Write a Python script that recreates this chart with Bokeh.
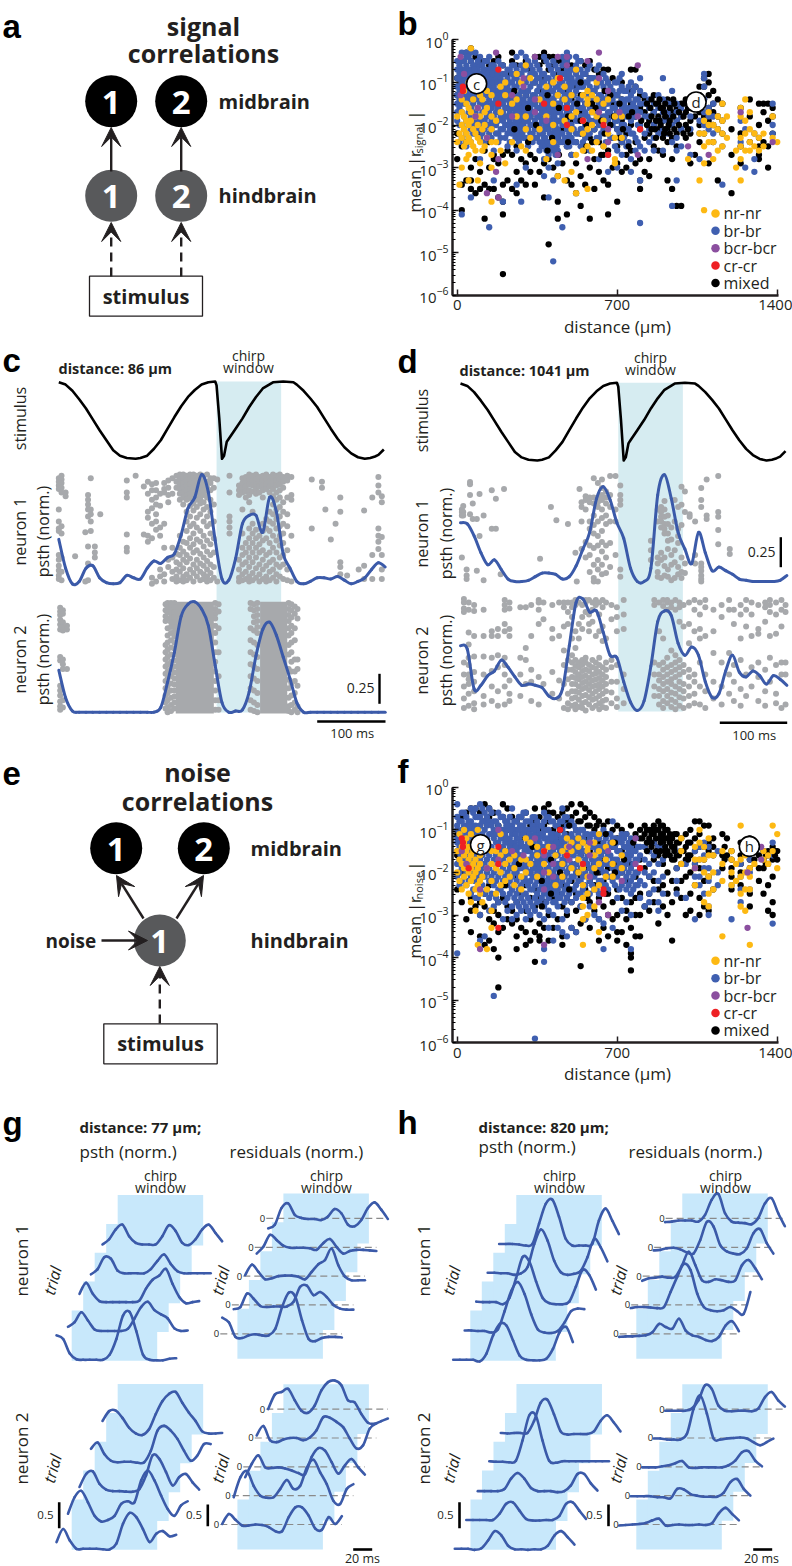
from math import pi
from bokeh.plotting import figure
from bokeh.layouts import row, column
from bokeh.models import Range1d, Arrow, VeeHead, FixedTicker, LogTicker, LogAxis, LinearAxis
from bokeh.core.properties import value
from bokeh.embed import file_html
from bokeh.resources import INLINE

# ---------------- panel b / f : distance (um) -> list of -10*log10(mean |r|)
SIG_BLACK = {0:[9,13,22,28],20:[7,25,34,40],40:[3,24,33],60:[2,5,30,33,35],80:[4,28,36],100:[5,22,31,35],120:[5,26,34,42],140:[6,24,30,35],160:[5,27,28,35],180:[4,29,37],200:[6,27,34,38,41,55],220:[8,26,33],240:[3,5,27,35],260:[6,25,31,36],280:[8,28,33],300:[5,13,29,34],320:[7,18,27,31],340:[4,10,15,28,34],360:[4,6,12,18,31],380:[3,5,9,24,29,37],400:[4,7,11,20,28,48],420:[4,6,14,22,30],440:[5,8,13,23,32,38,42],460:[5,7,16,21,29],480:[5,9,12,25,33,41],500:[6,14,19,27,34],520:[7,11,24,29,36],540:[5,13,17,22,32,39],560:[6,8,15,26,34],580:[5,9,19,23,30,42],600:[7,12,21,28,35],620:[8,16,24,31],640:[7,14,19,27,33],660:[7,10,18,26,34,41],680:[9,15,23,30],700:[13,17,21,25,29,38],720:[10,14,19,24,31],740:[12,16,22,27,30],760:[7,12,15,20,26],780:[7,11,18,24,29],800:[13,16,21,28,33,35],820:[14,17,23,31],840:[16,19,22,28,32],860:[13,17,20,25],880:[15,18,21,26],900:[16,19,23,27],920:[14,18,21,24,33],940:[15,17,20,23,28,35],960:[16,19,22,25,39],980:[15,18,21,39],1000:[14,17,20,23],1020:[16,19,22,29],1040:[15,18,27],1060:[11,13,17,20,24],1080:[9,11,14,18,22],1100:[8,10,13,16,19,29],1120:[12,15,17,20,24],1140:[14,18,21,33],1160:[15,19,22],1200:[21,27,36],1240:[16,22,25,29],1280:[14,18,24],1320:[15,20,23,25,27,28],1340:[15,17,24],1360:[15,19,25,30],1380:[16,18,22]}
SIG_BLUE = {0:[5,7,9,11,13,15,17,19],20:[3,5,7,9,11,14,17,20,23,41],40:[3,4,6,8,10,12,15,19,22,25],60:[3,5,7,9,11,13,16,18,21,24,37],80:[3,6,8,10,12,14,17,19,22],100:[4,6,9,11,13,15,18,20,23,28],120:[5,7,9,11,13,16,19,21,24],140:[4,7,8,10,12,14,17,20,22,44],160:[6,7,9,11,13,15,18,20,26,33],180:[5,8,10,12,14,16,19,22,24],200:[6,8,10,11,13,15,17,19,21,38],220:[7,9,11,13,14,16,18,20,22,25],240:[6,8,10,12,14,16,18,20,22,24],260:[4,7,9,11,15,17,19,21,23,26,34],280:[3,6,8,12,14,16,18,20,22,38],300:[4,7,10,13,15,17,19,21,23,30],320:[6,8,11,14,16,18,20,22,24],340:[5,8,10,13,15,17,19,21,23],360:[7,9,11,14,16,18,20,22,24,26],380:[4,8,10,12,14,17,19,21,23,25,28,32],400:[6,9,11,13,15,17,19,21,24,27,30,37],420:[5,8,10,12,14,16,18,20,22,25,33,52],440:[7,9,11,13,15,17,19,21,23,26,29],460:[4,6,8,10,12,14,16,18,20,22,24,44],480:[3,5,7,9,11,13,15,17,19,21,23,25],500:[7,9,11,13,16,18,20,23,27],520:[4,6,8,10,12,15,17,19,22,24],540:[5,7,9,11,14,16,18,21,25],560:[8,10,13,15,17,20,23],580:[6,9,11,14,16,19,22,26],600:[9,12,14,17,19,21,24],620:[6,10,13,15,18,20,23,28],640:[8,11,14,16,18,21,25],660:[10,13,15,17,19,22,27,31],680:[12,14,16,18,20,23],700:[10,13,15,17,19,21,26,30],720:[8,11,14,16,18,20,24,27],740:[12,14,16,18,21,25],760:[10,13,16,19,22,28,31],780:[11,14,16,18,23,26],800:[9,12,15,17,20,25,33,43],820:[13,15,18,22,26],840:[14,16,18,21,24],860:[15,17,20,23,26],880:[13,16,19,22],900:[9,14,17,19,21,26],920:[15,17,19,22],940:[12,15,18,20,24,39],960:[15,17,19,23,26,33],980:[16,18,21,25],1020:[18,21,27],1060:[19,22,28],1080:[8,9,11,14,17,20],1100:[16,18,21],1120:[15,18,22],1160:[25,34],1240:[19,24],1260:[21,30],1300:[22,28,31],1380:[15,20,22]}
SIG_BLUE2 = {10:[6,8,10,12,14,16,20,24],30:[5,8,10,13,15,18,21],50:[4,7,9,11,14,17,20,23],70:[6,8,10,12,15,18,20,22],90:[5,7,11,13,16,19,21],110:[6,8,10,14,17,19,22],130:[5,8,12,15,18,20],150:[6,9,11,13,16,19,21,23],170:[7,9,12,14,17,20,22],190:[6,9,11,13,15,18,21,23],210:[8,10,12,14,16,18,20,23],230:[7,10,12,15,17,19,21,24],250:[6,9,11,13,16,18,20,22],270:[8,10,13,15,17,19,21,24],290:[7,10,12,14,16,18,20,23],310:[5,9,12,15,17,19,21,25],330:[7,10,13,15,17,20,22,24],350:[6,9,12,14,16,18,21,23],370:[8,10,13,15,17,19,22,25],390:[5,9,12,14,16,18,20,24,26],410:[7,10,12,14,17,19,22,25],430:[6,9,11,13,15,17,20,23,27],450:[8,10,12,15,17,19,22,24],470:[5,8,11,13,16,18,20,23],490:[4,8,10,12,14,17,20,22,25],510:[7,10,13,15,18,21,24],530:[5,9,11,14,16,19,22],550:[8,11,13,16,18,21,24],570:[7,10,13,15,18,22],590:[9,12,15,17,20,24],610:[7,11,14,16,19,23],630:[10,13,16,19,22],650:[9,12,15,18,21,24],670:[11,14,17,20,23],690:[10,13,16,19,25],710:[9,12,15,18,22],730:[12,15,17,20,23],750:[11,14,17,21,24],770:[12,15,18,22],790:[14,17,20,24]}
SIG_BLUE3 = {255:[15,17,19,21,23],265:[16,18,20,22],275:[15,17,19,21,23],285:[16,18,20,22],295:[15,17,19,21],375:[16,19,22,24],385:[17,20,23,25],395:[18,21,24,26],405:[16,19,22,25],415:[17,20,23,26],425:[18,21,24],435:[16,19,22,25],15:[9,11,13,15],35:[7,9,11,14],55:[8,10,13],75:[7,9,11,13],95:[8,10,12,14],115:[7,9,12,15],135:[9,11,13],155:[8,10,12,15],175:[8,10,13,16],195:[10,12,14,17]}
SIG_BLACK2 = {250:[12,21],310:[16,24],345:[20],395:[13,26],415:[23],445:[16,27],485:[18,24],525:[15],565:[20,25],605:[16],645:[12,22],685:[18],725:[21],765:[17],805:[19],845:[16],865:[21],885:[14,19],905:[17,22],925:[20],945:[14,18]}
SIG_BLACK3 = {830:[15,20],850:[14,18,21],870:[15,19,23],890:[16,20],910:[15,18,21],930:[16,19,22],950:[15,21],970:[17,20],990:[15,18,22],1010:[16,21],540:[10,19],590:[15,24],630:[19,27],670:[13,20],710:[15,23],750:[18,25]}
SIG_YELLOW = {0:[18,24],10:[22,34],20:[14,17,20,23,30],30:[12,18,21,25],40:[15,19,22,24,28],50:[10,16,20,23,27,33],60:[2,17,19,24],70:[14,21,25],80:[9,18,22,26],90:[16,20,23,33],100:[13,18,24,29],110:[14,21,26],120:[17,20,25],130:[12,16,23],150:[13,18,21,24,27,30,38],170:[19,24],190:[11,17,26],210:[10,13,29],240:[15,24],260:[8,14,18],280:[10,25],300:[6,18,21,26],320:[9,23],360:[14,21],390:[11,18,28],420:[10,15,20,24],440:[9,13,32],470:[11,14,19,33],500:[13,18,21,31],520:[7,17,27,36],550:[13,19,22,26],570:[12,14,15,21,25,35],590:[13,17,20,26],610:[10,14,18,24],640:[15,19,25],660:[14,22],690:[18,23,28,29],720:[18,23],1010:[28],1060:[22,33],1080:[19,22,25,29,40],1100:[17,20,24],1120:[20,24,28],1140:[18,21,26],1160:[15,19,22,25],1180:[18,23],1220:[26,30],1240:[16,18,23,25,28,33],1260:[14,19,22,26],1280:[17,21,24,26],1300:[22,25],1320:[23,26],1340:[22,25],1380:[18,23],1400:[24]}
SIG_PURPLE = {15:[4,13],30:[8],80:[18],90:[16],130:[23,36],170:[3,31],180:[28,37],240:[18,13],290:[9,11],340:[4,14,17],390:[19],440:[4,27],480:[4,6],570:[5,28],620:[3,9,17],660:[12,21,24],710:[17],790:[18,27,6],1010:[25],1100:[27],1240:[17],1380:[24]}
SIG_RED = {25:[11,12],180:[7,15],380:[15],450:[9],480:[16,20],550:[19],640:[20],660:[27],800:[21]}

NOISE_BLACK = {0:[11,16,24],20:[7,20,27],40:[6,15,31],60:[5,17,26,29,34],80:[5,12,22,28],100:[6,9,27,30,35],120:[4,8,25,28,37],140:[5,7,23,31,36],160:[6,29,32,38],180:[9,27,30,34,40,47],200:[4,7,26,33],220:[5,10,28,31],240:[7,24,29,32],260:[8,21,27,31,35,38],280:[7,12,25,33],300:[6,11,23,29,34,37],320:[9,20,26,31,36],340:[5,8,18,24,28,34,41],360:[7,10,19,26,32,35,36],380:[5,9,15,22,27,33],400:[4,6,8,17,24,30,36],420:[6,10,21,26,33],440:[7,12,19,25,31],460:[6,9,14,23,28,35,37],480:[5,8,11,20,26,30],500:[4,7,13,22,27,33],520:[6,10,18,25,29,34],540:[4,8,16,21,28,32,42],560:[5,7,12,19,24,31],580:[6,9,15,22,27,33],600:[7,10,18,23,29],620:[8,13,20,26,31,36],640:[9,17,22,28,33],660:[8,11,19,25,30,35],680:[10,14,21,27,31],700:[9,12,18,24,30,34,36],720:[10,15,20,26,34],740:[11,16,22,29,31,37],760:[9,13,18,27,33,39,40,43],780:[11,14,21,26,30,35],800:[10,12,17,25,30,35],820:[9,11,14,19,28],840:[10,12,15,21,25,29],860:[9,11,13,17,22,27],880:[8,10,14,16,24,32],900:[9,11,13,18,23,28],920:[10,12,15,20,25,30],940:[12,14,17,22,27,36],960:[11,13,16,19,24],980:[12,15,18,22,26],1000:[11,14,17,21,30],1020:[10,13,16,20,25,29],1040:[8,12,15,18,23],1060:[8,11,14,19,26,30],1080:[9,14,17,22,28],1100:[9,13,15,21,29],1120:[12,14,16,24],1160:[11,16,19],1200:[15,17,19,21,24],1240:[13,16,18,20,23],1280:[12,17,19,25,28],1320:[14,16,19,22],1340:[15,17,19,25],1360:[15,16,18,23,29],1380:[14,16,17,21,27,30],1400:[15,17]}
NOISE_BLUE = {0:[4,9,12,15,18,21,7,10,13,39],20:[6,8,10,13,16,19,22],40:[7,9,11,14,17,20,23],60:[5,8,10,12,15,18,21,25],80:[5,7,9,11,13,16,19,22,26],100:[4,7,9,12,14,17,20,24,30,36],120:[6,8,10,13,15,18,21,25,35],140:[5,8,11,14,16,19,22,26,29],160:[8,10,12,15,17,20,23,28,49],180:[6,9,11,13,16,18,21,24,27],200:[7,10,12,14,17,19,22,25,31],220:[8,10,13,15,18,20,23,26,29],240:[5,9,11,14,16,19,21,24,28,31],260:[8,10,12,15,17,20,22,25,27,30],280:[7,9,11,13,16,18,21,23,26,29],300:[6,8,10,12,14,17,19,22,25,28,31],320:[8,10,12,15,17,20,22,24,27,30],340:[7,9,11,14,16,18,21,23,26,29,59],360:[9,11,13,15,17,19,21,24,27,30],380:[6,8,10,12,15,18,20,22,25,28,31,38,41],400:[7,10,12,14,16,19,21,23,26,29,33],420:[8,11,13,15,17,20,22,25,27,30,36],440:[9,11,14,16,18,21,24,26,28,33],460:[5,8,10,12,14,17,19,22,25,31,34],480:[7,9,12,15,17,20,23,26,29,35],500:[8,11,13,16,18,21,24,27,33],520:[10,13,15,18,20,23,26,34],540:[10,12,14,16,19,22,25,28],560:[11,13,15,17,20,23,26,31],580:[12,14,16,19,22,25,28],600:[11,14,16,18,21,24,30],620:[12,14,17,19,22,25,31],640:[10,13,15,18,20,23,32,38],660:[11,14,16,18,21,24],680:[8,12,14,17,19,22,33],700:[13,15,17,19,21,26],720:[11,13,16,18,20,23,29],740:[11,14,16,18,21,24,27],760:[12,14,16,19,22,25,30,38],780:[12,15,17,20,23],800:[14,16,19,22,26],820:[14,17,20,23,28],840:[15,18,21,25,27],860:[13,16,20,24],880:[14,18,22,27,29],900:[14,17,21,25],960:[15,19,22,25],1000:[18,26],1040:[15,18,21,31],1060:[14,17,21,23],1080:[13,16,19,25],1100:[14,19,22,28,30],1140:[15,20,23],1200:[23,31],1240:[18,21,24,27],1280:[17,20,24],1380:[13,16,32]}
NOISE_BLUE2 = {10:[8,11,14,17,20,23],30:[6,9,12,15,18,21],50:[8,10,13,16,19,22],70:[6,9,11,14,17,20,24],90:[7,10,12,15,18,21,26],110:[5,8,11,13,16,19,23],130:[7,9,12,15,17,20,24],150:[6,9,11,14,18,21,25],170:[8,11,13,16,19,22,26],190:[7,10,12,15,17,20,24],210:[8,11,13,16,18,21,23,27],230:[7,9,12,14,17,19,22,25],250:[8,10,13,15,18,20,23,26],270:[7,10,12,14,16,19,21,24,28],290:[6,9,11,14,17,19,22,25,27],310:[8,10,13,15,18,20,23,26,29],330:[7,9,12,14,16,19,21,24,28],350:[8,10,12,15,17,20,22,25,27],370:[9,11,14,16,18,21,23,26],390:[7,10,12,14,17,19,22,24,27],410:[8,11,13,15,18,20,23,25],430:[9,12,14,16,19,21,24,27],450:[8,10,13,15,18,20,23,26],470:[7,11,13,16,18,21,24,27],490:[9,12,14,17,19,22,25],510:[9,12,14,16,19,21,24],530:[11,13,15,17,20,22,25],550:[10,12,15,18,21,24],570:[11,13,16,18,21,25],590:[11,14,17,20,23],610:[12,15,17,20,24],630:[11,14,16,19,22,25],650:[12,15,17,20,23],670:[11,13,16,18,21],690:[12,14,17,20,23],710:[12,15,18,20,24],730:[12,14,16,19,22],750:[13,15,17,20,23],770:[13,15,18,21,24],790:[14,17,20,23]}
NOISE_BLUE3 = {15:[11,13,16],35:[10,14,17],55:[9,12,15],75:[10,13,16],95:[11,14,17],215:[9,12,15,18],235:[10,13,16],255:[11,14,17,20],275:[9,13,16,19],295:[10,15,18,21],315:[11,14,17,20],335:[10,13,16,19],355:[12,15,18,21],375:[11,14,17,20,23],395:[13,16,19,22,25],415:[12,15,18,21,24],435:[13,16,19,22,25],455:[12,15,18,21]}
NOISE_BLACK2 = {210:[23],270:[18],330:[14],370:[22,28],410:[17,25],450:[10,20],490:[9,24],530:[8,20],570:[9,26],610:[9,20],650:[11,25],690:[13,20],730:[17],770:[13],810:[12],850:[13,10],890:[12,11],910:[12,15],930:[13],950:[14],990:[15],1010:[17]}
NOISE_BLACK3 = {830:[10,13,15],850:[11,14],870:[10,12,15],890:[9,13,15],910:[10,14,16],930:[11,13,16],950:[11,15,17],970:[13,16],1300:[15,17],1350:[16,18],1390:[15,16],1010:[13,16],1170:[14,17],1180:[12,16]}
NOISE_YELLOW = {0:[15,20],10:[11,17,22],20:[14,18,24],30:[10,13,16,19,21],40:[12,15,18,23],50:[14,17,20,25],60:[11,16,19,22,27],70:[13,15,18,21],80:[12,17,20,24,29],90:[10,14,19,23,37],100:[16,18,22,25],110:[13,21,27],130:[14,19,24,38],150:[15,18,22,29,33],170:[15,19,25],190:[11,16,20,23],210:[15,18,22],230:[17,21],250:[16,19,23],280:[17,21,24],300:[12,17,20],320:[13,18],350:[14,16,21],380:[15,18],400:[14,20],430:[16,23],460:[15,18,21],480:[12,14,16],500:[13,15,19],530:[12,14,17,20],550:[13,19,23,26,28,31,37],570:[14,15,21,25,30],600:[13,16,19,24,28],620:[11,15,18,23,34],650:[14,17,21],680:[13,18,21],720:[16,19],980:[12,15,18],1040:[14,17,19,23],1060:[10,13,17],1080:[14,17,20,27],1100:[12,16,21,25,28],1120:[16,20,24],1160:[15,18,22,35],1200:[15,17,20,23],1220:[18,22],1240:[9,17,21,25,28],1260:[16,20,24,29],1280:[15,19,21,24,37],1300:[15,18],1340:[15,17],1360:[16,18],1380:[9,15],1400:[11,19]}
NOISE_PURPLE = {20:[15],40:[18],100:[24,38],130:[19],180:[10,17],240:[15],290:[16],340:[12],380:[16,20,24,37],420:[14,18,21],490:[14,17],580:[13,16,21],620:[27],660:[15,30],720:[22],780:[12,18],1040:[19],1270:[20,33],1330:[17,14]}
NOISE_RED = {20:[12],25:[13,14],50:[19],180:[14,18,33],380:[15],450:[10],480:[16],550:[18],640:[24,25],800:[19]}

LEGEND_NAMES = ["nr-nr", "br-br", "bcr-bcr", "cr-cr", "mixed"]
LEGEND_COLORS = ["#fdb913", "#3f5fb0", "#8b4f9f", "#ee2024", "#000000"]

# ---------------- panel c / d : rasters, time (ms) -> trial level (percent of psth scale)
STIM_T = [0,10,20,30,40,50,60,70,80,90,100,113,120,130,140,150,160,170,180,190,200,210,220,230,232,236,240,243,247,250,260,270,280,290,300,315,330,345,350,360,370,380,390,400,410,420,430,440,450,458,465,470,478]
STIM_V = [.99,.96,.88,.77,.65,.51,.37,.24,.11,.04,.01,0,.01,.04,.13,.24,.39,.54,.68,.8,.89,.96,.99,1,.95,.52,0,.04,.22,.26,.39,.52,.67,.8,.91,.99,1,.99,.96,.88,.78,.67,.53,.39,.26,.15,.07,.02,0,.01,.03,.05,.12]
GRID_MS = list(range(0, 490, 10))
C_PSTH1 = [.37,.13,0,.02,.13,.15,.05,.01,0,.01,.07,.05,.04,.13,.19,.17,.22,.25,.41,.63,.72,.91,.76,.36,.04,.03,.21,.5,.57,.57,.43,.72,.6,.25,.13,.02,0,.02,.05,.05,.04,.06,.03,0,.02,.05,.12,.175,.14]
C_PSTH2 = [.35,.12,.01,0,0,0,0,0,0,0,0,0,0,0,0,.04,.25,.5,.8,.9,.92,.86,.72,.39,.08,0,.01,.02,.17,.47,.69,.75,.64,.46,.28,.08,0,0,0,0,0,0,0,0,0,0,0,0,0]
D_PSTH1 = [.49,.48,.38,.24,.14,.18,.1,.02,0,0,.01,.04,.07,.07,.06,.02,.04,.13,.27,.41,.69,.79,.68,.49,.36,.11,0,0,.11,.72,.89,.69,.41,.27,.15,.41,.24,.09,.12,.09,.06,.02,.01,0,0,0,0,.01,.05]
D_PSTH2 = [.54,.51,.18,.21,.29,.33,.42,.36,.28,.21,.22,.21,.19,.12,.1,.18,.54,.9,.93,.82,.83,.65,.46,.44,.24,.07,0,.08,.37,.74,.83,.79,.56,.46,.53,.46,.24,.11,.14,.33,.46,.32,.28,.33,.29,.22,.29,.26,.21]
C_RASTER1 = {0:[88,85,82,79,62,52,46,44,24,20,15,11,7,4],4:[90,87,84,80,76,48,42,22,10,3],10:[76,73],24:[23],39:[43,2],43:[74,70,66,62,56,31,17,3],47:[88,62,58,52,44],53:[31,26,22],61:[58],100:[86,76,72,41,30,27],113:[90],125:[81,41],131:[85,75,60,55,40,35],137:[83,78,70,63,50,38,5,0],143:[84,78,72,66,58,52,45,2],149:[75,65,47,40,12,6],155:[84,79,76,50,30,8,2],161:[86,80,74,68,20,14],167:[88,75,30,22,10,4],173:[90,85,80,25,18,12,6,2],178:[91,87,83,79,75,70,40,30,24,16,10,3],183:[91,88,84,80,76,72,66,35,27,20,13,6,2],188:[90,86,82,78,74,70,60,52,44,34,24,18,8,3],193:[91,87,83,79,75,71,65,56,48,38,30,21,12,5],198:[91,88,84,80,76,72,67,61,50,42,33,26,16,9,2],203:[90,86,82,78,74,70,64,55,47,37,28,20,13,6],208:[91,87,83,79,75,71,67,58,44,35,25,17,10,3],213:[90,86,82,78,74,68,62,52,40,31,22,15,8,4],218:[91,85,80,76,72,64,56,48,36,27,19,12,6,2],223:[88,84,78,70,60,50,42,33,24,16,9,3],228:[88,80,66,52,38,26,14,5],233:[87,2],251:[90,76,56,52,47,42],265:[82,78,74,20,12,5,2],270:[88,84,80,76,62,42,30,24,16,8,3],275:[89,85,81,77,72,34,26,18,10,4],280:[91,87,83,78,74,68,46,38,30,22,14,6,2],285:[90,86,82,77,60,50,42,34,26,18,9,3],290:[91,87,83,79,75,45,38,30,22,13,5],295:[89,85,81,76,40,33,26,16,8,2],300:[90,86,82,78,72,50,44,36,28,20,12,4],305:[91,87,83,79,54,46,38,24,15,6,2],310:[89,85,81,76,60,52,44,34,26,18,10,3],315:[91,87,83,79,73,66,58,50,40,30,20,12,5],320:[90,86,82,76,70,62,54,46,36,26,16,8,2],325:[91,87,83,78,72,64,56,48,40,32,22,14,6],330:[89,85,80,68,60,50,42,34,24,16,4],336:[90,86,72,58,48,28,12,3],342:[89,74,70,40,2],372:[87,46],387:[85,80],392:[62],400:[37],407:[50],414:[72,60,18,14,8],424:[7],441:[12],449:[61,15,4],461:[72,24,4],470:[89,82,76,46,40,35,29],475:[73,68,39,24,12,4]}
C_RASTER2 = {2:[87,84,81,77,73,69,46,43,22,18,14,9,5,2],6:[85,82,75,71,68,44,40,36,10,4],12:[72,69,36],157:[90,85,80,76,56,50,44,38,32,26,20,14,8,3],160:[91,87,83,78,70,64,58,52,46,40,34,28,22,16,10,4,0],165:[91,87,83,79,75,71,66,60,54,48,42,36,30,24,18,12,6,1],170:[91,87,83,79,75,71,67,63,58,53,48,43,38,33,28,23,18,13,8,3],230:[91,86,82,78,72,66,58,50,42,34,26,18,10,2],235:[90,84,70,50,30,10,2],282:[91,86,70,60,50,40,30,20,10,2],287:[90,85,80,75,68,58,48,38,28,18,8,1],292:[91,86,81,76,71,66,56,46,36,26,16,6,0],338:[91,86,81,76,70,64,56,48,36,27,20,12,5,1],342:[90,85,79,72,66,58,50,42,34,24,14,6,0],347:[88,82,70,60,44,34,26,16,8,2],351:[86,78,44,36,22,5,0]}
C_DENSE_T0 = [172, 296]
C_DENSE_T1 = [228, 336]
D_RASTER1 = {2:[60,58,55,20],4:[63,58,55],9:[10,5,2],14:[83,81,72,56],18:[65,52],24:[52,9],28:[73,38],34:[55,1],46:[76,44],52:[69,44],59:[6],64:[77],117:[19],133:[62],141:[51],158:[48],169:[24],171:[0],175:[77],178:[66,62,50,27],184:[71,68,60,33,20],190:[70,66,50,44,30,22,8],196:[86,70,65,55,47,40,28,14,3,0],202:[82,70,66,62,50,38,30,18,10,0],208:[85,78,72,68,60,53,42,33,25,14,6],214:[75,70,65,55,48,30,20,7],220:[88,72,62,50,32,12],228:[88,60,50,22],235:[80,72,68,64,10,4],280:[34,26,18],290:[60,50,20,15,8,4],295:[62,58,54,50,45,24,18,3],300:[67,60,54,48,44,40,20,13,5],305:[55,48,40,34,27,10,4],310:[45,35,22,14,1],315:[68,50,26,16,3],320:[62,44,38,32,12,6],325:[79,64,47,20,8,3],330:[75,58,15,7],337:[56,54],345:[50,22,15],354:[78,68,62,15,12,9,5,2,0],362:[85,55,52],379:[88,58,54,43,31],396:[27,23]}
D_RASTER2 = {5:[93,90,85,82,40,30,20,10,2],12:[90,84,65,55,44,38,30,26,22,14,4],20:[88,83,62,45,32,24,16,6,1],34:[84,62,45,30,12,5],46:[62,66,44,33,20,8],55:[68,62,46,36,16,4],65:[92,88,84,72,66,44,38,30,20,5],72:[90,85,68,62,25,14,8],88:[86,44,30,12],96:[86,52,42,22],104:[88,62,34,24,8],115:[92,90,84,72,28,5],122:[90,76,22],135:[88,68,60,32,14],145:[90,62,25,10],152:[90,86,70,50,38,22,2],158:[90,82,72,42,34,26,14,6,1],164:[90,86,78,60,46,40,34,28,22,16,10,4],169:[92,88,66,52,42,37,32,27,22,16,11,5,1],174:[90,72,60,40,36,30,26,20,15,9,3],179:[88,78,68,42,38,33,28,23,18,12,6,2],184:[92,90,82,44,40,34,29,24,19,13,7,0],189:[92,80,72,66,38,33,27,22,17,11,5],194:[90,84,74,42,36,30,25,20,14,9,2],199:[92,88,62,40,35,31,26,21,16,10,4],204:[90,80,66,44,38,32,27,22,18,12,6,1],209:[92,86,70,58,36,30,25,20,14,8,3],214:[90,60,40,34,28,22,16,9,2],222:[88,76,42,36,24,15,6],230:[86,78,66,38,24,10,3],240:[92,80,68,30,18,6],285:[92,88,40,30,20,12],292:[90,66,38,30,25,18,12,5],298:[92,87,60,40,34,28,22,16,8,2],304:[92,90,84,44,36,30,24,18,12,6],310:[90,86,50,38,32,26,22,15,9,3],316:[92,84,46,40,34,28,20,14,7,1],322:[90,86,74,42,36,30,24,18,11,4],328:[88,70,38,32,22,16,10,2],336:[90,72,56,34,28,20,12,4],344:[92,84,66,30,24,14,6],352:[90,80,68,60,40,20,5],360:[92,86,62,30,16,2],372:[84,66,48,24,10],384:[88,78,40,20,5],395:[92,84,48,30,14],402:[84,72,38,24,8],412:[88,80,60,42,18,4],420:[92,84,70,30,12],428:[90,80,62,36,20],438:[88,68,64,40,28,8],448:[90,86,74,34,16,4],455:[92,88,82,62,44,24],464:[90,80,64,38,14,6],472:[92,84,70,40,30,2],478:[88,82,40,30,5]}

# ---------------- panels g / h : trial traces sampled every 7 ms (hundredths of norm. unit)
TRIAL_MS = [7 * k for k in range(19)]
G_PSTH_N1 = [[47,40,12,1,0,0,0,0,10,40,85,92,55,10,0,-1,-1,2,3],[8,17,36,20,3,0,0,0,0,4,24,46,56,40,32,24,5,0,1],[16,37,16,2,0,0,0,0,0,3,26,43,51,64,35,10,-2,0,2],[-2,8,31,28,5,0,0,0,0,8,24,36,18,4,0,0,0,0,0],[0,10,29,38,16,3,0,0,0,16,37,26,3,-1,10,29,38,22,6]]
G_PSTH_N2 = [[13,38,16,0,0,0,0,-1,-1,10,48,69,61,38,13,29,34,24,27],[12,44,56,34,8,-3,0,8,31,36,34,76,95,76,47,21,8,28,36],[8,33,38,14,3,0,0,-1,-1,4,30,69,62,37,11,27,33,17,3],[26,38,16,3,0,1,1,-1,0,22,61,70,61,45,22,3,13,35,35],[24,43,44,30,11,0,-3,8,37,62,76,80,59,40,24,4,0,0,1]]
G_RES_N1 = [[31,22,-6,-8,-3,-1,-3,-3,10,51,79,71,26,-10,-14,-8,-6,-6,-7],[-8,-4,22,12,-2,-4,-3,-3,-3,6,35,37,19,25,15,0,-7,-9,-9],[2,22,8,-6,-4,0,1,1,-1,-6,8,23,31,53,21,-1,-8,-8,-8],[-12,1,24,14,3,-1,-1,-1,-2,-5,8,16,1,-12,-7,-5,-5,-6,-7],[-19,-12,20,29,7,1,-1,-1,-3,4,18,10,-12,-15,-3,20,31,17,-1]]
G_RES_N2 = [[1,20,9,-2,-2,0,-1,-5,-13,-13,14,33,33,17,-8,-10,14,1,16],[-3,35,47,19,0,-4,-3,13,30,13,19,54,69,45,22,-10,-16,13,22],[-20,6,22,-1,-2,-1,-3,-7,-12,-14,19,36,31,9,-13,3,15,-1,-15],[5,23,-4,-8,-3,0,0,-4,1,15,40,39,31,21,-1,-20,-14,18,28],[0,28,33,39,17,-3,-7,7,36,52,55,46,17,13,-9,-26,-28,-23,-18]]
H_PSTH_N1 = [[0,0,0,0,-3,12,47,69,66,37,8,0,-1,-1,2,21,53,63,34],[1,1,0,0,-3,3,38,77,94,71,32,3,-3,-4,0,16,38,43,42],[1,0,0,0,-4,8,46,87,78,40,8,-2,-4,-4,1,30,62,52,24],[1,1,0,0,-3,0,12,56,84,63,24,2,-3,-1,5,31,66,50,23],[1,1,1,0,-2,1,40,78,86,53,11,-2,-2,-2,1,46,69,46,20]]
H_PSTH_N2 = [[0,0,0,-2,1,16,34,26,6,-1,-1,-2,-1,-1,6,26,34,22,8],[0,0,0,0,0,12,31,34,18,2,-1,-1,0,0,8,31,34,18,2],[0,0,0,0,4,24,35,24,6,0,0,0,-2,0,11,33,33,15,1],[2,1,1,0,3,42,90,90,42,3,-1,2,2,2,2,2,2,2,2],[1,0,1,1,1,24,59,65,37,4,-2,-1,-1,-1,4,24,35,21,4]]
H_RES_N1 = [[-6,-5,-5,-4,-3,3,19,13,10,29,6,-3,-6,-12,-14,-6,16,24,5],[-6,-4,-4,-5,-6,-4,25,54,79,67,22,-4,-10,-12,-10,-4,-12,-17,25],[-9,-4,-3,-1,-3,-1,21,47,21,-8,-11,-6,-8,-11,-8,21,31,15,-6],[-6,-5,-2,-1,-4,-10,-12,14,49,40,4,-8,-12,-13,-2,27,35,8,-12],[-7,-6,-4,-4,-4,-6,7,36,47,10,-6,-8,-9,-11,1,29,39,10,-15]]
H_RES_N2 = [[-2,-1,0,1,3,8,11,-2,-1,0,-1,-1,0,-1,3,22,32,20,8],[-1,-1,-1,-1,-3,-3,-5,13,12,3,0,-2,-2,-2,6,26,32,13,0],[-1,-1,-1,1,3,7,11,-1,-2,-1,-1,-1,-1,3,12,28,30,12,1],[-1,-1,-3,-3,-3,8,56,82,47,-1,-3,-1,0,1,-1,-8,-14,-8,-1],[-3,-3,-3,-3,1,17,46,39,7,-3,-4,-3,-3,-4,1,23,33,17,5]]

INK = "#231f20"
TRACE = "#3b5aa9"
GRAY = "#a7a9ac"
SANS = "Open Sans"
ROWS = [0, 340, 742, 1085, 1566]


def txt(p, x, y, s, size, style="normal", align="left", angle=0, color=INK, font=SANS, baseline="middle", **kw):
    p.text([x], [y], text=[s], text_font=value(font), text_font_size=f"{size}px", text_font_style=style,
           text_align=align, text_baseline=baseline, angle=angle, text_color=color, **kw)


def canvas(x0, r, **kw):
    top, bottom = ROWS[r], ROWS[r + 1]
    x_r = kw.pop("x_range", Range1d(x0, x0 + 396))
    y_r = kw.pop("y_range", Range1d(bottom, top))
    p = figure(width=396, height=bottom - top, x_range=x_r, y_range=y_r,
               x_axis_location=None, y_axis_location=None, toolbar_location=None, tools="",
               output_backend="svg", min_border=0, outline_line_color=None, **kw)
    p.grid.visible = False
    return p


def letter(p, x, y, s):
    p.text([x], [y], text=[s], text_font=value("Liberation Sans"), text_font_size="33px", text_font_style="bold",
           text_baseline="alphabetic", text_color="#000000")


def smooth(p, xs, ys, **kw):
    # curve through the read points, drawn as bezier segments
    n = len(xs)
    ids = range(n - 1)
    px = lambda i: xs[max(0, min(n - 1, i))]
    py = lambda i: ys[max(0, min(n - 1, i))]
    p.bezier(x0=[xs[i] for i in ids], y0=[ys[i] for i in ids], x1=[xs[i + 1] for i in ids], y1=[ys[i + 1] for i in ids],
             cx0=[xs[i] + (px(i + 1) - px(i - 1)) / 6 for i in ids], cy0=[ys[i] + (py(i + 1) - py(i - 1)) / 6 for i in ids],
             cx1=[xs[i + 1] - (px(i + 2) - px(i)) / 6 for i in ids], cy1=[ys[i + 1] - (py(i + 2) - py(i)) / 6 for i in ids],
             line_cap="round", **kw)


def arrow(p, a, b, c, d, dash="solid"):
    p.add_layout(Arrow(x_start=a, y_start=b, x_end=c, y_end=d, line_color=INK, line_width=2.4, line_dash=dash,
                       end=VeeHead(size=19, fill_color=INK, line_color=INK, line_width=1)))


def node(p, x, y, s, fill):
    p.scatter([x], [y], size=52, marker="circle", fill_color=fill, line_color=None)
    txt(p, x, y + 1, s, 33, style="bold", align="center", color="#ffffff")


def box(p, l, r, t, b):
    p.quad(left=[l], right=[r], top=[t], bottom=[b], fill_color="#ffffff", line_color=INK, line_width=1.3)
    txt(p, (l + r) / 2, (t + b) / 2, "stimulus", 20, style="bold", align="center")


# ---------- a
a = canvas(0, 0)
letter(a, 2, 26, "a")
txt(a, 203, 25, "signal", 25, "bold", "center")
txt(a, 203, 52, "correlations", 25, "bold", "center")
for x, lab in ((110.7, "1"), (180.7, "2")):
    arrow(a, x, 171, x, 127)
    arrow(a, x, 276, x, 222, "9 6")
    node(a, x, 100.7, lab, "#000000")
    node(a, x, 195.3, lab, "#58595b")
txt(a, 218, 101, "midbrain", 20, "bold")
txt(a, 218, 195, "hindbrain", 20, "bold")
box(a, 89, 202, 275.7, 315.7)

# ---------- e
e = canvas(0, 2)
letter(e, 2, 773, "e")
txt(e, 197, 771, "noise", 25, "bold", "center")
txt(e, 197, 800, "correlations", 25, "bold", "center")
arrow(e, 143, 918, 116, 875)
arrow(e, 176, 918, 203, 875)
arrow(e, 101, 940, 147, 940)
arrow(e, 159.3, 1023, 159.3, 966, "9 6")
node(e, 115.7, 847.7, "1", "#000000")
node(e, 203.3, 847.7, "2", "#000000")
node(e, 159.3, 940, "1", "#58595b")
txt(e, 250, 848, "midbrain", 20, "bold")
txt(e, 250, 940, "hindbrain", 20, "bold")
txt(e, 45, 940, "noise", 19, "bold")
box(e, 103.3, 216.7, 1023.3, 1063.3)


# ---------- b / f
def expand(cols):
    return [x for x, vs in cols.items() for _ in vs], [10 ** (-v / 10) for vs in cols.values() for v in vs]


def scatter_panel(r, frame_top, sets, marks, sub, ylab_px, sub_px, bar_px, let, let_base):
    PX = 0.2286
    DEC = 42.6
    fx = lambda px: (px - 456.7) / PX
    fy = lambda py: 10 ** (-(py - frame_top) / DEC)
    top, bottom = ROWS[r], ROWS[r + 1]
    frame_bottom = frame_top + 6 * DEC
    p = canvas(396, r, x_range=Range1d(fx(396), fx(792)), y_range=Range1d(fy(bottom), fy(top)), y_axis_type="log")
    yax = LogAxis(fixed_location=fx(452), bounds=(1e-6, 1), ticker=LogTicker(num_minor_ticks=10))
    xax = LinearAxis(fixed_location=1e-6, bounds=(fx(452), fx(778)), ticker=FixedTicker(ticks=[0, 700, 1400]))
    xax.minor_tick_line_color = None
    for ax in (xax, yax):
        ax.major_tick_in = 6
        ax.major_tick_out = 0
        ax.major_tick_line_color = INK
        ax.major_tick_line_width = 1.5
        ax.axis_line_color = INK
        ax.axis_line_width = 2.5
        ax.major_label_text_font = SANS
        ax.major_label_text_font_size = "15px"
        ax.major_label_text_color = INK
        ax.minor_tick_in = 3
        ax.minor_tick_out = 0
    yax.major_label_standoff = 4
    xax.major_label_standoff = 5
    p.add_layout(yax, "left")
    p.add_layout(xax, "below")
    cols_order = ["#000000", "#3f5fb0", "#3f5fb0", "#3f5fb0", "#000000", "#000000", "#fdb913", "#8b4f9f", "#ee2024"]
    for cols, col in zip(sets, cols_order):
        xs, ys = expand(cols)
        p.scatter(xs, ys, size=6.3, marker="circle", fill_color=col, line_color=None)
    for (mx, mv, s) in marks:
        p.scatter([mx], [10 ** mv], size=20, marker="circle", fill_color="#ffffff", line_color="#000000", line_width=1.6)
        txt(p, mx, 10 ** mv, s, 15, align="center")
    for k, (nm, col) in enumerate(zip(LEGEND_NAMES, LEGEND_COLORS)):
        ly = frame_bottom - 82 + 17.4 * k
        p.scatter([fx(715)], [fy(ly)], size=8.5, marker="circle", fill_color=col, line_color=None)
        txt(p, fx(723), fy(ly), nm, 16)
    txt(p, fx(617), fy(frame_bottom + 31), "distance (\u00b5m)", 17, align="center")
    for s, py, size, xpx in (("mean |r", ylab_px, 16, 414), (sub, sub_px, 11, 418), ("|", bar_px, 16, 414)):
        txt(p, fx(xpx), fy(py), s, size, angle=pi / 2, baseline="alphabetic")
    letter(p, fx(397), fy(let_base), let)
    return p


b = scatter_panel(0, 39.3, [SIG_BLACK, SIG_BLUE, SIG_BLUE2, SIG_BLUE3, SIG_BLACK2, SIG_BLACK3, SIG_YELLOW, SIG_PURPLE, SIG_RED],
                  [(85, -1.03, "c"), (1045, -1.46, "d")], "signal", 212, 153, 119, "b", 23)
f = scatter_panel(2, 786.7, [NOISE_BLACK, NOISE_BLUE, NOISE_BLUE2, NOISE_BLUE3, NOISE_BLACK2, NOISE_BLACK3, NOISE_YELLOW, NOISE_PURPLE, NOISE_RED],
                  [(102, -1.35, "g"), (1278, -1.39, "h")], "noise", 958, 899, 870, "f", 771)


# ---------- c / d
def raster_panel(x0, ox, stim_t, stim_b, base1, base2, p1, p2, r1, r2, win_bottom, dense=None):
    p = canvas(x0, 1)
    L, R, T, B = x0, x0 + 396, ROWS[1], ROWS[2]
    S = 0.68
    U = 120.0
    p.extra_x_ranges["ms"] = Range1d((L - ox) / S, (R - ox) / S)
    p.extra_y_ranges["stim"] = Range1d((stim_b - B) / (stim_b - stim_t), (stim_b - T) / (stim_b - stim_t))
    p.extra_y_ranges["n1"] = Range1d((base1 - B) / U, (base1 - T) / U)
    p.extra_y_ranges["n2"] = Range1d((base2 - B) / U, (base2 - T) / U)
    p.quad(left=[232], right=[327], top=[stim_t], bottom=[win_bottom], x_range_name="ms", fill_color="#d6ecf1", line_color=None)
    for key, cols in (("n1", r1), ("n2", r2)):
        xs = [t for t, vs in cols.items() for _ in vs]
        ys = [v / 100 for vs in cols.values() for v in vs]
        p.scatter(xs, ys, size=6, marker="circle", fill_color=GRAY, line_color=None, x_range_name="ms", y_range_name=key)
    if dense:
        p.quad(left=dense[0], right=dense[1], top=[.92] * 2, bottom=[-.01] * 2, fill_color=GRAY, line_color=None,
               x_range_name="ms", y_range_name="n2")
    p.line(STIM_T, STIM_V, line_color="#000000", line_width=2.6, line_join="round", x_range_name="ms", y_range_name="stim")
    smooth(p, GRID_MS, p1, line_color=TRACE, line_width=3, x_range_name="ms", y_range_name="n1")
    smooth(p, GRID_MS, p2, line_color=TRACE, line_width=3, x_range_name="ms", y_range_name="n2")
    return p


c = raster_panel(0, 58.3, 381, 458.3, 583.3, 711.7, C_PSTH1, C_PSTH2, C_RASTER1, C_RASTER2, 712, (C_DENSE_T0, C_DENSE_T1))
letter(c, 2, 360, "c")
txt(c, 58, 368, "distance: 86 \u00b5m", 14.5, "bold")
txt(c, 248, 355, "chirp", 14, align="center")
txt(c, 248, 367, "window", 14, align="center")
txt(c, 19, 418, "stimulus", 16, align="center", angle=pi / 2)
for x, y, s in ((19.3, 531, "neuron 1"), (42.3, 531, "psth (norm.)"), (19.3, 659, "neuron 2"), (42.3, 659, "psth (norm.)")):
    txt(c, x, y, s, 16, align="center", angle=pi / 2)
c.segment([379, 316.7], [673.3, 721], [379, 385], [703.3, 721], line_color="#000000", line_width=2.4)
txt(c, 374, 687, "0.25", 14, align="right")
txt(c, 351.7, 732, "100 ms", 13, align="center")

d = raster_panel(396, 460, 382.3, 460, 581, 710, D_PSTH1, D_PSTH2, D_RASTER1, D_RASTER2, 711)
letter(d, 397, 361, "d")
txt(d, 459, 370, "distance: 1041 \u00b5m", 14.5, "bold")
txt(d, 650, 357, "chirp", 14, align="center")
txt(d, 650, 369, "window", 14, align="center")
txt(d, 421, 420, "stimulus", 16, align="center", angle=pi / 2)
for x, y, s in ((421, 533, "neuron 1"), (445, 533, "psth (norm.)"), (421, 660, "neuron 2"), (445, 660, "psth (norm.)")):
    txt(d, x, y, s, 16, align="center", angle=pi / 2)
d.segment([780.3, 719.3], [536.7, 722.3], [780.3, 786.7], [566.7, 722.3], line_color="#000000", line_width=2.4)
txt(d, 775, 551, "0.25", 14, align="right")
txt(d, 753.7, 734, "100 ms", 13, align="center")


# ---------- g / h
def trials(p, key, x0, ox, oy, traces, win0, vlo, vhi, zero_at=None):
    S, U = 0.95, 52.0
    DT, DV = 12.1, 0.5545
    L, R, T, B = x0, x0 + 396, ROWS[3], ROWS[4]
    p.extra_x_ranges[key] = Range1d((L - ox) / S, (R - ox) / S)
    p.extra_y_ranges[key] = Range1d((oy - B) / U, (oy - T) / U)
    kw = dict(x_range_name=key, y_range_name=key)
    p.quad(left=[win0 + DT * i for i in range(5)], right=[win0 + 90 + DT * i for i in range(5)],
           bottom=[vlo + DV * i for i in range(5)], top=[vhi + DV * i for i in range(5)],
           fill_color="#c8e8fb", line_color=None, **kw)
    if zero_at is not None:
        for i in range(5):
            p.line([zero_at + 4 + DT * i, 126 + DT * i], [DV * i, DV * i], line_color="#8a8a8a", line_width=1.2,
                   line_dash="7 4", **kw)
            p.text([zero_at + DT * i], [DV * i], text=["0"], text_font=value(SANS), text_font_size="9.5px",
                   text_baseline="middle", text_align="center", text_color=INK, **kw)
    for i, tr in enumerate(traces):
        smooth(p, [t + DT * i for t in TRIAL_MS], [v / 100 + DV * i for v in tr], line_color=TRACE, line_width=2.6, **kw)


g = canvas(0, 3)
trials(g, "p1", 0, 56, 1359.3, G_PSTH_N1, 16, -.02, .95)
trials(g, "p2", 0, 56, 1548.3, G_PSTH_N2, 16, -.02, .95)
trials(g, "r1", 0, 221.7, 1333.3, G_RES_N1, 16, -.48, .48, -6)
trials(g, "r2", 0, 221.7, 1524, G_RES_N2, 16, -.48, .48, -6)
letter(g, 2, 1123, "g")
txt(g, 79, 1126, "distance: 77 \u00b5m;", 15, "bold")
txt(g, 79, 1151, "psth (norm.)", 17)
txt(g, 229, 1151, "residuals (norm.)", 17)
for x in (160, 326):
    txt(g, x, 1175, "chirp", 14, align="center")
    txt(g, x, 1187, "window", 14, align="center")
for y, s in ((1260, "neuron 1"), (1448, "neuron 2")):
    txt(g, 20.7, y, s, 17, align="center", angle=pi / 2)
for x, y in ((52, 1280), (220, 1280), (52, 1468), (220, 1468)):
    txt(g, x, y, "trial", 16, "italic", "center", angle=1.3)
g.segment([58.7, 207.3, 352.7], [1501.7, 1504, 1549], [58.7, 207.3, 371.7], [1527.7, 1525.7, 1549], line_color="#000000", line_width=2.6)
txt(g, 53, 1514, "0.5", 11.5, align="right")
txt(g, 201.7, 1514, "0.5", 11.5, align="right")
txt(g, 362, 1558, "20 ms", 12.5, align="center")

h = canvas(396, 3)
trials(h, "p1", 396, 452.7, 1359.3, H_PSTH_N1, 18, -.02, .95)
trials(h, "p2", 396, 454.3, 1548.3, H_PSTH_N2, 16.5, -.02, .95)
trials(h, "r1", 396, 618.7, 1333.3, H_RES_N1, 18, -.48, .48, -3.5)
trials(h, "r2", 396, 618.7, 1524, H_RES_N2, 18, -.48, .48, -3.5)
letter(h, 397, 1122, "h")
txt(h, 478, 1126, "distance: 820 \u00b5m;", 15, "bold")
txt(h, 478, 1146, "psth (norm.)", 17)
txt(h, 628, 1151, "residuals (norm.)", 17)
for x in (559, 725):
    txt(h, x, 1175, "chirp", 14, align="center")
    txt(h, x, 1187, "window", 14, align="center")
for y, s in ((1260, "neuron 1"), (1448, "neuron 2")):
    txt(h, 423, y, s, 17, align="center", angle=pi / 2)
for x, y in ((451, 1280), (618, 1280), (451, 1468), (618, 1468)):
    txt(h, x, y, "trial", 16, "italic", "center", angle=1.3)
h.segment([459, 608, 752.7], [1501.7, 1504, 1549], [459, 608, 771.7], [1527.7, 1525.7, 1549], line_color="#000000", line_width=2.6)
txt(h, 453, 1514, "0.5", 11.5, align="right")
txt(h, 602, 1514, "0.5", 11.5, align="right")
txt(h, 761, 1558, "20 ms", 12.5, align="center")

page = column(row(a, b), row(c, d), row(e, f), row(g, h))
open("out.html", "w").write(file_html(page, INLINE))
